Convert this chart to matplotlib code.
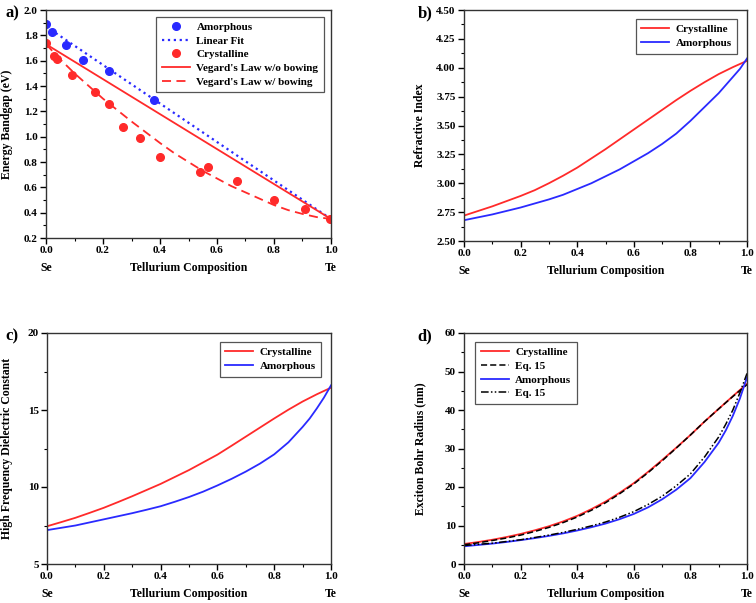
import numpy as np
import matplotlib
matplotlib.use('Agg')
import matplotlib.pyplot as plt
from matplotlib.ticker import MultipleLocator, FormatStrFormatter

plt.rcParams['font.family'] = ['Liberation Serif', 'DejaVu Serif']
plt.rcParams['font.weight'] = 'bold'
plt.rcParams['axes.labelweight'] = 'bold'

RED = '#ff2a2a'
BLUE = '#2a2aff'

# a) energy bandgap
amor_x = [0.0, 0.022, 0.07, 0.131, 0.221, 0.38]
amor_eg = [1.89, 1.83, 1.72, 1.605, 1.515, 1.29]
cryst_x = [0.0, 0.029, 0.04, 0.092, 0.172, 0.221, 0.271, 0.33, 0.40, 0.54, 0.57, 0.67, 0.80, 0.909, 0.995]
cryst_eg = [1.74, 1.64, 1.61, 1.49, 1.35, 1.26, 1.08, 0.99, 0.84, 0.72, 0.76, 0.65, 0.50, 0.43, 0.35]
fit_x = [0.0, 1.0]
fit_eg = [1.87, 0.35]
vegard_eg = [1.73, 0.35]

# composition grid the curves were read at
comp = [0.0, 0.05, 0.1, 0.15, 0.2, 0.25, 0.3, 0.35, 0.4, 0.45, 0.5,
        0.55, 0.6, 0.65, 0.7, 0.75, 0.8, 0.85, 0.9, 0.95, 1.0]
comp_fine = [0.0, 0.05, 0.1, 0.15, 0.2, 0.25, 0.3, 0.35, 0.4, 0.45, 0.5,
             0.55, 0.6, 0.65, 0.7, 0.75, 0.8, 0.85, 0.9, 0.925, 0.95, 0.975, 1.0]

bow_eg = [1.73, 1.61, 1.50, 1.40, 1.30, 1.21, 1.12, 1.035, 0.95, 0.87, 0.80,
          0.73, 0.67, 0.61, 0.56, 0.51, 0.46, 0.42, 0.39, 0.365, 0.35]

# b) refractive index
n_cryst = [2.72, 2.76, 2.80, 2.845, 2.89, 2.94, 3.00, 3.065, 3.135, 3.215, 3.295,
           3.38, 3.465, 3.55, 3.635, 3.72, 3.80, 3.875, 3.945, 4.005, 4.06]
n_amor = [2.68, 2.705, 2.73, 2.76, 2.79, 2.825, 2.86, 2.90, 2.95, 3.00, 3.06,
          3.12, 3.19, 3.26, 3.34, 3.43, 3.54, 3.66, 3.78, 3.85, 3.92, 3.99, 4.08]

# c) high frequency dielectric constant
e_cryst = [7.45, 7.72, 8.0, 8.32, 8.65, 9.02, 9.4, 9.8, 10.2, 10.65, 11.1,
           11.6, 12.1, 12.68, 13.27, 13.86, 14.45, 15.02, 15.55, 16.02, 16.45]
e_amor = [7.2, 7.35, 7.5, 7.7, 7.9, 8.1, 8.3, 8.52, 8.75, 9.04, 9.35,
          9.7, 10.1, 10.53, 11.0, 11.52, 12.12, 12.9, 13.9, 14.45, 15.1, 15.8, 16.6]

# d) exciton bohr radius
r_cryst = [5.2, 5.7, 6.3, 7.0, 7.8, 8.75, 9.8, 11.05, 12.5, 14.25, 16.2,
           18.5, 21.0, 23.9, 27.0, 30.2, 33.5, 37.0, 40.3, 43.6, 46.8]
r_cryst_eq = [5.0, 5.5, 6.1, 6.75, 7.5, 8.45, 9.5, 10.75, 12.2, 13.95, 15.9,
              18.25, 20.8, 23.7, 26.8, 30.1, 33.5, 37.0, 40.3, 43.5, 46.6]
r_amor = [4.6, 4.95, 5.3, 5.72, 6.2, 6.72, 7.3, 7.95, 8.7, 9.55, 10.5,
          11.65, 13.0, 14.7, 16.8, 19.3, 22.3, 26.5, 31.5, 34.7, 38.5, 43.0, 48.5]
r_amor_eq = [4.8, 5.1, 5.4, 5.85, 6.3, 6.88, 7.5, 8.2, 9.0, 9.9, 10.9,
             12.15, 13.6, 15.45, 17.6, 20.3, 23.4, 27.8, 33.0, 36.3, 40.0, 44.5, 49.5]

W, H = 756, 603
fig = plt.figure(figsize=(W / 100, H / 100), dpi=100)


def make_axes(left, right, top, bottom):
    return fig.add_axes([left / W, 1 - bottom / H, (right - left) / W, (bottom - top) / H])


def style(ax, ylim, major, minor, fmt, ylabel, hpx, wpx, ylab_px):
    ax.set_xlim(0, 1)
    ax.set_ylim(*ylim)
    ax.xaxis.set_major_locator(MultipleLocator(0.2))
    ax.xaxis.set_minor_locator(MultipleLocator(0.1))
    ax.xaxis.set_major_formatter(FormatStrFormatter('%.1f'))
    ax.yaxis.set_major_locator(MultipleLocator(major))
    ax.yaxis.set_minor_locator(MultipleLocator(minor))
    ax.yaxis.set_major_formatter(FormatStrFormatter(fmt))
    ax.tick_params(which='major', direction='out', length=4, width=1, labelsize=8, pad=2)
    ax.tick_params(which='minor', direction='out', length=2, width=0.8)
    for s in ax.spines.values():
        s.set_linewidth(1.0)
        s.set_color('#333333')
    ax.set_xlabel('Tellurium Composition', fontsize=8.5)
    ax.xaxis.set_label_coords(0.5, -24 / hpx)
    ax.text(0.0, -24 / hpx, 'Se', transform=ax.transAxes, ha='center', va='top', fontsize=8.5)
    ax.text(1.0, -24 / hpx, 'Te', transform=ax.transAxes, ha='center', va='top', fontsize=8.5)
    ax.set_ylabel(ylabel, fontsize=8.5)
    # label anchor is the right edge of the rotated text
    ax.yaxis.set_label_coords(-ylab_px / wpx, 0.5)


def legend(ax, loc, bbox=None):
    leg = ax.legend(loc=loc, bbox_to_anchor=bbox, fontsize=8, fancybox=False, framealpha=1,
                    edgecolor='#555555', handlelength=2.5, handletextpad=0.6,
                    borderpad=0.5, labelspacing=0.35)
    leg.get_frame().set_linewidth(0.9)


# a)
ax = make_axes(46, 331, 10, 238)
ax.plot(amor_x, amor_eg, 'o', color=BLUE, ms=5.5, label='Amorphous')
ax.plot(fit_x, fit_eg, ':', color=BLUE, lw=1.6, label='Linear Fit')
ax.plot(cryst_x, cryst_eg, 'o', color=RED, ms=5.5, label='Crystalline')
ax.plot(fit_x, vegard_eg, '-', color=RED, lw=1.3, label="Vegard's Law w/o bowing")
ax.plot(comp, bow_eg, '--', color=RED, lw=1.3, dashes=(5, 3), label="Vegard's Law w/ bowing")
style(ax, (0.2, 2.0), 0.2, 0.1, '%.1f', 'Energy Bandgap (eV)', 228, 285, 33)
legend(ax, 'upper right', (0.995, 0.995))

# b)
ax = make_axes(464, 747, 10, 241)
ax.plot(comp, n_cryst, '-', color=RED, lw=1.3, label='Crystalline')
ax.plot(comp_fine, n_amor, '-', color=BLUE, lw=1.3, label='Amorphous')
style(ax, (2.5, 4.5), 0.25, 0.125, '%.2f', 'Refractive Index', 231, 283, 38)
legend(ax, 'upper right', (0.985, 0.985))

# c)
ax = make_axes(47, 331, 333, 564)
ax.plot(comp, e_cryst, '-', color=RED, lw=1.3, label='Crystalline')
ax.plot(comp_fine, e_amor, '-', color=BLUE, lw=1.3, label='Amorphous')
style(ax, (5, 20), 5, 2.5, '%d', 'High Frequency Dielectric Constant', 231, 284, 34)
legend(ax, 'upper right', (0.985, 0.985))

# d)
ax = make_axes(464, 747, 333, 564)
ax.plot(comp, r_cryst, '-', color=RED, lw=1.3, label='Crystalline')
ax.plot(comp, r_cryst_eq, '--', color='black', lw=1.1, dashes=(4, 2), label='Eq. 15')
ax.plot(comp_fine, r_amor, '-', color=BLUE, lw=1.3, label='Amorphous')
ax.plot(comp_fine, r_amor_eq, color='black', lw=1.1, dashes=(5, 1.5, 1, 1.5, 1, 1.5), label='Eq. 15')
style(ax, (0, 60), 10, 5, '%d', 'Exciton Bohr Radius (nm)', 231, 283, 38)
legend(ax, 'upper left', (0.02, 0.985))

for lab, x, y in [('a)', 12, 13), ('b)', 425, 13), ('c)', 12, 336), ('d)', 425, 336)]:
    fig.text(x / W, 1 - y / H, lab, fontsize=12, fontweight='bold', ha='center', va='center')

fig.savefig('out.png', dpi=100)
